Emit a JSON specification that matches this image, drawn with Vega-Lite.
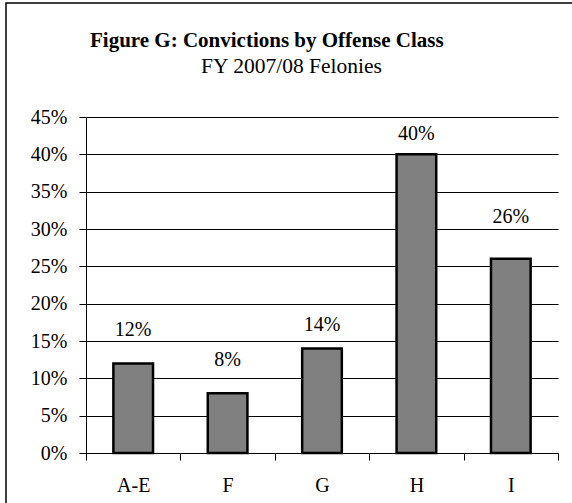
{
  "$schema": "https://vega.github.io/schema/vega-lite/v6.json",
  "autosize": "none",
  "padding": {"left": 6, "top": 3, "right": 0, "bottom": 0},
  "width": 580,
  "height": 510,
  "background": "white",
  "title": {
    "text": "Figure G:  Convictions by Offense Class",
    "anchor": "start",
    "frame": "group",
    "orient": "top",
    "offset": -65,
    "dx": 84,
    "baseline": "alphabetic",
    "font": "Liberation Serif",
    "fontSize": 21,
    "fontWeight": "bold",
    "color": "black"
  },
  "data": {
    "values": [
      {"cls": "A-E", "share": 0.12},
      {"cls": "F", "share": 0.08},
      {"cls": "G", "share": 0.14},
      {"cls": "H", "share": 0.40},
      {"cls": "I", "share": 0.26}
    ]
  },
  "encoding": {
    "x": {
      "field": "cls",
      "type": "nominal",
      "sort": null,
      "scale": {"range": [80, 552], "paddingInner": 0, "paddingOuter": 0},
      "axis": {
        "title": null,
        "orient": "bottom",
        "offset": -60,
        "tickBand": "extent",
        "tickSize": 7,
        "tickColor": "black",
        "domainColor": "black",
        "labelAngle": 0,
        "labelPadding": 15,
        "labelFont": "Liberation Serif",
        "labelFontSize": 20,
        "labelColor": "black",
        "grid": false
      }
    },
    "y": {
      "field": "share",
      "type": "quantitative",
      "scale": {"domain": [0, 0.45], "range": [450, 114], "nice": false, "zero": true},
      "axis": {
        "title": "FY 2007/08 Felonies",
        "titleAngle": 0,
        "titleX": 205,
        "titleY": 69,
        "titleAlign": "center",
        "titleBaseline": "alphabetic",
        "titleFont": "Liberation Serif",
        "titleFontSize": 21.5,
        "titleFontWeight": "normal",
        "titleColor": "black",
        "orient": "left",
        "offset": -80,
        "values": [0, 0.05, 0.1, 0.15, 0.2, 0.25, 0.3, 0.35, 0.4, 0.45],
        "format": ".0%",
        "tickSize": 7,
        "tickColor": "black",
        "domainColor": "black",
        "grid": true,
        "gridColor": "black",
        "gridWidth": 1,
        "labelPadding": 12,
        "labelFont": "Liberation Serif",
        "labelFontSize": 20,
        "labelColor": "black"
      }
    }
  },
  "layer": [
    {
      "mark": {"type": "bar", "width": {"band": 0.42}, "fill": "#808080", "stroke": "black", "strokeWidth": 2.5}
    },
    {
      "transform": [{"filter": "datum.cls == 'A-E' || datum.cls == 'F'"}],
      "mark": {"type": "text", "baseline": "alphabetic", "dy": -27.5, "font": "Liberation Serif", "fontSize": 20, "color": "black"},
      "encoding": {
        "text": {"field": "share", "type": "quantitative", "format": ".0%"}
      }
    },
    {
      "transform": [{"filter": "datum.cls == 'G'"}],
      "mark": {"type": "text", "baseline": "alphabetic", "dy": -17.5, "font": "Liberation Serif", "fontSize": 20, "color": "black"},
      "encoding": {
        "text": {"field": "share", "type": "quantitative", "format": ".0%"}
      }
    },
    {
      "transform": [{"filter": "datum.cls == 'I'"}],
      "mark": {"type": "text", "baseline": "alphabetic", "dy": -36, "font": "Liberation Serif", "fontSize": 20, "color": "black"},
      "encoding": {
        "text": {"field": "share", "type": "quantitative", "format": ".0%"}
      }
    },
    {
      "transform": [{"filter": "datum.cls == 'H'"}],
      "mark": {"type": "text", "baseline": "alphabetic", "dy": -14, "font": "Liberation Serif", "fontSize": 20, "color": "black"},
      "encoding": {
        "text": {"field": "share", "type": "quantitative", "format": ".0%"}
      }
    }
  ],
  "config": {
    "view": {"stroke": "black", "strokeWidth": 1.5, "fill": "white"},
    "axis": {"domainWidth": 1, "tickWidth": 1}
  }
}
